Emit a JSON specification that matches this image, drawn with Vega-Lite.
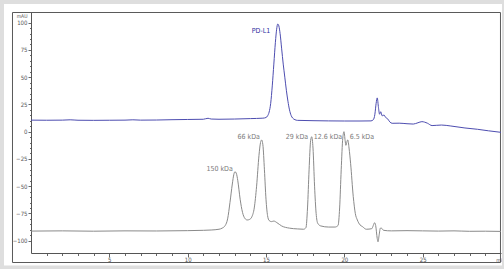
{
  "$schema": "https://vega.github.io/schema/vega-lite/v6.json",
  "width": 470,
  "height": 241,
  "autosize": {"type": "none"},
  "padding": {"left": 31, "top": 12, "right": 3, "bottom": 16},
  "background": "white",
  "config": {
    "view": {"stroke": null},
    "axis": {"labelFont": "DejaVu Sans Condensed, Liberation Sans, sans-serif", "titleFont": "DejaVu Sans Condensed, Liberation Sans, sans-serif", "labelColor": "#555", "titleColor": "#555", "domainColor": "#555", "tickColor": "#666", "grid": false, "labelOverlap": false}
  },
  "datasets": {
    "frame": [{}],
    "curves": [
      {"series": "PD-L1", "t": 0, "v": 10.6}, {"series": "PD-L1", "t": 1, "v": 10.5}, {"series": "PD-L1", "t": 2, "v": 10.6}, {"series": "PD-L1", "t": 2.5, "v": 10.9}, {"series": "PD-L1", "t": 3, "v": 10.5}, {"series": "PD-L1", "t": 4, "v": 10.4}, {"series": "PD-L1", "t": 5, "v": 10.5}, {"series": "PD-L1", "t": 6, "v": 10.6}, {"series": "PD-L1", "t": 6.5, "v": 10.9}, {"series": "PD-L1", "t": 7, "v": 10.6}, {"series": "PD-L1", "t": 8, "v": 10.7}, {"series": "PD-L1", "t": 9, "v": 11.0}, {"series": "PD-L1", "t": 10, "v": 11.2}, {"series": "PD-L1", "t": 11, "v": 11.4}, {"series": "PD-L1", "t": 11.3, "v": 12.3}, {"series": "PD-L1", "t": 11.5, "v": 11.6}, {"series": "PD-L1", "t": 12, "v": 11.4}, {"series": "PD-L1", "t": 13, "v": 11.6}, {"series": "PD-L1", "t": 14, "v": 12.0}, {"series": "PD-L1", "t": 14.8, "v": 12.4}, {"series": "PD-L1", "t": 15.0, "v": 13.0}, {"series": "PD-L1", "t": 15.1, "v": 14.5}, {"series": "PD-L1", "t": 15.2, "v": 18}, {"series": "PD-L1", "t": 15.3, "v": 26}, {"series": "PD-L1", "t": 15.4, "v": 42}, {"series": "PD-L1", "t": 15.5, "v": 62}, {"series": "PD-L1", "t": 15.6, "v": 82}, {"series": "PD-L1", "t": 15.68, "v": 94}, {"series": "PD-L1", "t": 15.75, "v": 98.8}, {"series": "PD-L1", "t": 15.82, "v": 97}, {"series": "PD-L1", "t": 15.9, "v": 90}, {"series": "PD-L1", "t": 16.0, "v": 76}, {"series": "PD-L1", "t": 16.1, "v": 62}, {"series": "PD-L1", "t": 16.2, "v": 50}, {"series": "PD-L1", "t": 16.3, "v": 38}, {"series": "PD-L1", "t": 16.4, "v": 28}, {"series": "PD-L1", "t": 16.5, "v": 20}, {"series": "PD-L1", "t": 16.6, "v": 15}, {"series": "PD-L1", "t": 16.7, "v": 12.5}, {"series": "PD-L1", "t": 16.85, "v": 11}, {"series": "PD-L1", "t": 17, "v": 10.4}, {"series": "PD-L1", "t": 18, "v": 10.1}, {"series": "PD-L1", "t": 19, "v": 9.9}, {"series": "PD-L1", "t": 20, "v": 9.8}, {"series": "PD-L1", "t": 21, "v": 9.8}, {"series": "PD-L1", "t": 21.7, "v": 9.9}, {"series": "PD-L1", "t": 21.85, "v": 11}, {"series": "PD-L1", "t": 21.95, "v": 16}, {"series": "PD-L1", "t": 22.03, "v": 26}, {"series": "PD-L1", "t": 22.1, "v": 31}, {"series": "PD-L1", "t": 22.18, "v": 22}, {"series": "PD-L1", "t": 22.25, "v": 16}, {"series": "PD-L1", "t": 22.32, "v": 18.3}, {"series": "PD-L1", "t": 22.42, "v": 14.5}, {"series": "PD-L1", "t": 22.53, "v": 15.3}, {"series": "PD-L1", "t": 22.64, "v": 13}, {"series": "PD-L1", "t": 22.75, "v": 12}, {"series": "PD-L1", "t": 22.9, "v": 9}, {"series": "PD-L1", "t": 23.05, "v": 7.7}, {"series": "PD-L1", "t": 23.5, "v": 7.8}, {"series": "PD-L1", "t": 24, "v": 7.3}, {"series": "PD-L1", "t": 24.4, "v": 7.0}, {"series": "PD-L1", "t": 24.7, "v": 8.2}, {"series": "PD-L1", "t": 24.95, "v": 9.2}, {"series": "PD-L1", "t": 25.3, "v": 7.8}, {"series": "PD-L1", "t": 25.6, "v": 5.6}, {"series": "PD-L1", "t": 26.2, "v": 6.1}, {"series": "PD-L1", "t": 26.8, "v": 5.2}, {"series": "PD-L1", "t": 27.7, "v": 3.4}, {"series": "PD-L1", "t": 28.5, "v": 2.2}, {"series": "PD-L1", "t": 29.2, "v": 0.8}, {"series": "PD-L1", "t": 30, "v": -0.6},
      {"series": "std", "t": 0, "v": -91.2}, {"series": "std", "t": 2, "v": -91.0}, {"series": "std", "t": 4, "v": -91.3}, {"series": "std", "t": 6, "v": -91.0}, {"series": "std", "t": 8, "v": -91.1}, {"series": "std", "t": 10, "v": -90.8}, {"series": "std", "t": 11, "v": -90.5}, {"series": "std", "t": 11.5, "v": -90.2}, {"series": "std", "t": 12.0, "v": -89.5}, {"series": "std", "t": 12.2, "v": -88.5}, {"series": "std", "t": 12.4, "v": -86}, {"series": "std", "t": 12.55, "v": -80}, {"series": "std", "t": 12.7, "v": -65}, {"series": "std", "t": 12.85, "v": -48}, {"series": "std", "t": 12.95, "v": -39}, {"series": "std", "t": 13.02, "v": -36.7}, {"series": "std", "t": 13.1, "v": -38}, {"series": "std", "t": 13.2, "v": -45}, {"series": "std", "t": 13.35, "v": -62}, {"series": "std", "t": 13.5, "v": -74}, {"series": "std", "t": 13.65, "v": -79.5}, {"series": "std", "t": 13.8, "v": -81}, {"series": "std", "t": 13.95, "v": -80.5}, {"series": "std", "t": 14.1, "v": -78}, {"series": "std", "t": 14.25, "v": -70}, {"series": "std", "t": 14.4, "v": -50}, {"series": "std", "t": 14.55, "v": -22}, {"series": "std", "t": 14.65, "v": -10}, {"series": "std", "t": 14.72, "v": -7.6}, {"series": "std", "t": 14.8, "v": -12}, {"series": "std", "t": 14.9, "v": -35}, {"series": "std", "t": 15.0, "v": -62}, {"series": "std", "t": 15.1, "v": -77}, {"series": "std", "t": 15.2, "v": -81.5}, {"series": "std", "t": 15.35, "v": -82.5}, {"series": "std", "t": 15.5, "v": -82}, {"series": "std", "t": 15.7, "v": -83.5}, {"series": "std", "t": 16.0, "v": -86.5}, {"series": "std", "t": 16.5, "v": -88.5}, {"series": "std", "t": 17.0, "v": -89.2}, {"series": "std", "t": 17.4, "v": -89.5}, {"series": "std", "t": 17.55, "v": -88}, {"series": "std", "t": 17.65, "v": -70}, {"series": "std", "t": 17.75, "v": -35}, {"series": "std", "t": 17.85, "v": -8}, {"series": "std", "t": 17.92, "v": -4.6}, {"series": "std", "t": 18.0, "v": -15}, {"series": "std", "t": 18.1, "v": -50}, {"series": "std", "t": 18.2, "v": -75}, {"series": "std", "t": 18.3, "v": -84}, {"series": "std", "t": 18.5, "v": -86.5}, {"series": "std", "t": 19.0, "v": -87.5}, {"series": "std", "t": 19.4, "v": -87.5}, {"series": "std", "t": 19.6, "v": -86}, {"series": "std", "t": 19.7, "v": -70}, {"series": "std", "t": 19.8, "v": -35}, {"series": "std", "t": 19.9, "v": -6}, {"series": "std", "t": 19.98, "v": 0}, {"series": "std", "t": 20.05, "v": -8}, {"series": "std", "t": 20.1, "v": -12.5}, {"series": "std", "t": 20.17, "v": -9}, {"series": "std", "t": 20.22, "v": -7.5}, {"series": "std", "t": 20.3, "v": -15}, {"series": "std", "t": 20.4, "v": -29}, {"series": "std", "t": 20.57, "v": -59.6}, {"series": "std", "t": 20.7, "v": -75}, {"series": "std", "t": 20.83, "v": -81}, {"series": "std", "t": 21.0, "v": -85.5}, {"series": "std", "t": 21.15, "v": -87}, {"series": "std", "t": 21.4, "v": -89.5}, {"series": "std", "t": 21.75, "v": -89}, {"series": "std", "t": 21.85, "v": -86}, {"series": "std", "t": 21.93, "v": -83.5}, {"series": "std", "t": 22.0, "v": -86}, {"series": "std", "t": 22.1, "v": -98}, {"series": "std", "t": 22.15, "v": -101}, {"series": "std", "t": 22.22, "v": -95}, {"series": "std", "t": 22.3, "v": -88.5}, {"series": "std", "t": 22.38, "v": -88.6}, {"series": "std", "t": 22.5, "v": -90.5}, {"series": "std", "t": 23, "v": -91}, {"series": "std", "t": 24, "v": -90.8}, {"series": "std", "t": 25, "v": -91}, {"series": "std", "t": 26, "v": -91.2}, {"series": "std", "t": 27, "v": -91}, {"series": "std", "t": 28, "v": -91.4}, {"series": "std", "t": 29, "v": -91.3}, {"series": "std", "t": 30, "v": -91.5}
    ],
    "labels": [
      {"series": "PD-L1", "t": 14.68, "v": 92.4, "text": "PD-L1"},
      {"series": "std", "t": 12.04, "v": -33.9, "text": "150 kDa"},
      {"series": "std", "t": 13.9, "v": -5.1, "text": "66 kDa"},
      {"series": "std", "t": 16.98, "v": -4.9, "text": "29 kDa"},
      {"series": "std", "t": 18.96, "v": -4.9, "text": "12.6 kDa"},
      {"series": "std", "t": 21.12, "v": -5.1, "text": "6.5 kDa"}
    ]
  },
  "layer": [
    {
      "data": {"name": "frame"},
      "mark": {"type": "rect", "fill": null, "stroke": "#dedede", "strokeWidth": 4},
      "encoding": {
        "x": {"datum": -1.851, "type": "quantitative", "scale": {"domain": [0, 30], "nice": false, "zero": false},
          "axis": {"orient": "bottom", "title": null, "values": [1,2,3,4,6,7,8,9,11,12,13,14,16,17,18,19,21,22,23,24,26,27,28,29], "labels": false, "domain": false, "tickSize": 2.5}},
        "x2": {"datum": 30.19},
        "y": {"datum": 118.97, "type": "quantitative", "scale": {"domain": [-111.3, 109.8], "nice": false, "zero": false},
          "axis": {"orient": "left", "title": null, "values": [-95, -90, -85, -80, -70, -65, -60, -55, -45, -40, -35, -30, -20, -15, -10, -5, 5, 10, 15, 20, 30, 35, 40, 45, 55, 60, 65, 70, 80, 85, 90, 95], "labels": false, "domain": false, "tickSize": 1.5}},
        "y2": {"datum": -124.6}
      }
    },
    {
      "data": {"name": "frame"},
      "mark": {"type": "rect", "fill": null, "stroke": "#5a5a5a", "strokeWidth": 1},
      "encoding": {
        "x": {"datum": -1.1809, "type": "quantitative", "axis": null},
        "x2": {"datum": 29.967},
        "y": {"datum": 109.34, "type": "quantitative", "axis": null},
        "y2": {"datum": -120.02}
      }
    },
    {
      "data": {"name": "curves"},
      "mark": {"type": "line", "strokeWidth": 1, "interpolate": "monotone"},
      "encoding": {
        "x": {"field": "t", "type": "quantitative", "scale": {"domain": [0, 30], "nice": false, "zero": false},
          "axis": {"orient": "bottom", "title": "min", "titleFontSize": 5, "titleFontWeight": "normal", "titleX": 469, "titleY": 6, "titleAlign": "center", "titleBaseline": "middle",
            "values": [5, 10, 15, 20, 25], "tickSize": 4,
            "labelFontSize": 6, "labelPadding": -1}},
        "y": {"field": "v", "type": "quantitative", "scale": {"domain": [-111.3, 109.8], "nice": false, "zero": false},
          "axis": {"orient": "left", "title": "mAU", "titleFontSize": 5, "titleFontWeight": "normal", "titleAngle": 0, "titleX": -4, "titleY": 3, "titleAlign": "right", "titleBaseline": "middle",
            "values": [-100, -75, -50, -25, 0, 25, 50, 75, 100], "tickSize": 3,
            "labelFontSize": 6, "labelPadding": 1, "labelBaseline": "middle"}},
        "color": {"field": "series", "type": "nominal", "scale": {"domain": ["PD-L1", "std"], "range": ["#4d4db0", "#8a8a8a"]}, "legend": null}
      }
    },
    {
      "data": {"name": "labels"},
      "transform": [{"filter": "datum.series === 'PD-L1'"}],
      "mark": {"type": "text", "font": "DejaVu Sans Condensed, Liberation Sans, sans-serif", "fontSize": 7, "align": "center", "baseline": "middle", "color": "#2e2ea0"},
      "encoding": {
        "x": {"field": "t", "type": "quantitative", "axis": null},
        "y": {"field": "v", "type": "quantitative", "axis": null},
        "text": {"field": "text"}
      }
    },
    {
      "data": {"name": "labels"},
      "transform": [{"filter": "datum.series === 'std'"}],
      "mark": {"type": "text", "font": "DejaVu Sans Condensed, Liberation Sans, sans-serif", "fontSize": 7, "align": "center", "baseline": "middle", "color": "#7a7a7a"},
      "encoding": {
        "x": {"field": "t", "type": "quantitative", "axis": null},
        "y": {"field": "v", "type": "quantitative", "axis": null},
        "text": {"field": "text"}
      }
    }
  ],
  "resolve": {"axis": {"x": "independent", "y": "independent"}}
}
